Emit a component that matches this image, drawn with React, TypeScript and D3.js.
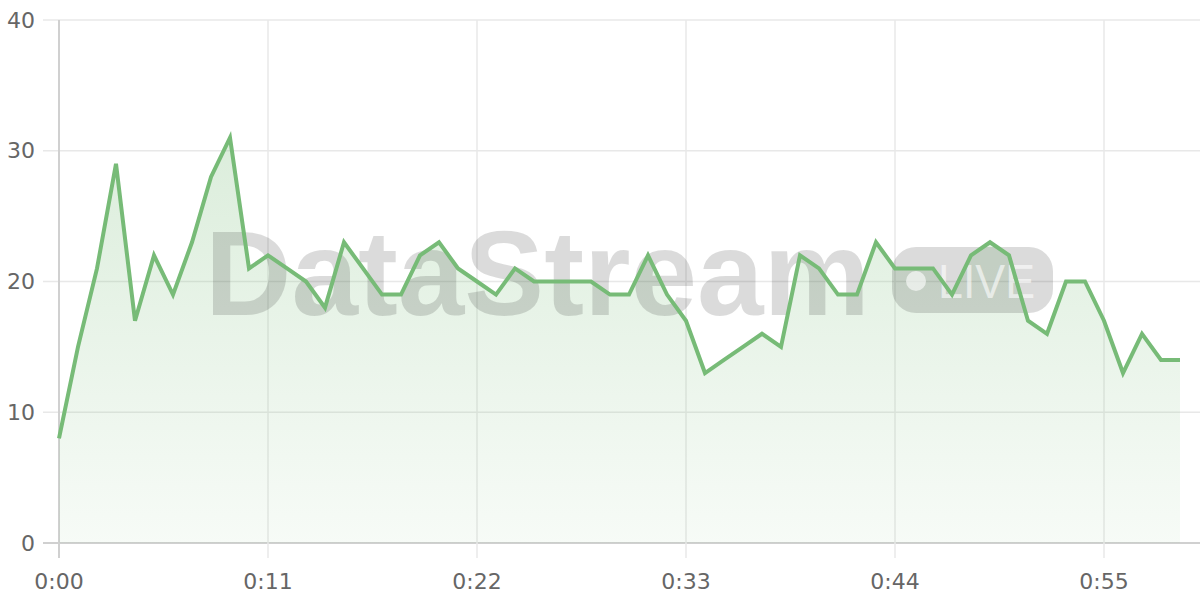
import React from "react";
import * as d3 from "d3";

const seconds: number[] = d3.range(0, 60);
const values: number[] = [
  8, 15, 21, 29, 17, 22, 19, 23, 28, 31,
  21, 22, 21, 20, 18, 23, 21, 19, 19, 22,
  23, 21, 20, 19, 21, 20, 20, 20, 20, 19,
  19, 22, 19, 17, 13, 14, 15, 16, 15, 22,
  21, 19, 19, 23, 21, 21, 21, 19, 22, 23,
  22, 17, 16, 20, 20, 17, 13, 16, 14, 14,
];
const yTicks: number[] = [0, 10, 20, 30, 40];
const xTicks: number[] = [0, 11, 22, 33, 44, 55];
const xTickLabels: string[] = ["0:00", "0:11", "0:22", "0:33", "0:44", "0:55"];
const watermarkText = "DataStream";
const badgeText = "LIVE";

const W = 1200;
const H = 600;
const left = 59;
const right = 1180;
const top = 20;
const bottom = 543;
const lineColor = "#77bb77";
const font = "'DejaVu Sans', sans-serif";

export default function App() {
  const x = d3.scaleLinear().domain([0, 59]).range([left, right]);
  const y = d3.scaleLinear().domain([0, 40]).range([bottom, top]);
  const data = seconds.map((s, i) => ({ s, v: values[i] }));
  const line = d3.line<{ s: number; v: number }>().x(d => x(d.s)).y(d => y(d.v));
  const area = d3
    .area<{ s: number; v: number }>()
    .x(d => x(d.s))
    .y0(y(0))
    .y1(d => y(d.v));

  return (
    <svg
      width={W}
      height={H}
      style={{ position: "absolute", left: 0, top: 0, background: "#fff" }}
    >
      <defs>
        <linearGradient id="fillGrad" gradientUnits="userSpaceOnUse" x1={0} y1={top} x2={0} y2={bottom}>
          <stop offset="0%" stopColor={lineColor} stopOpacity={0.32} />
          <stop offset="100%" stopColor={lineColor} stopOpacity={0.06} />
        </linearGradient>
      </defs>
      {yTicks.map(t => (
        <line
          key={"hy" + t}
          x1={left - 16}
          x2={W}
          y1={y(t)}
          y2={y(t)}
          stroke={t === 0 ? "#d0d0d0" : "#e8e8e8"}
          strokeWidth={t === 0 ? 2 : 1.5}
        />
      ))}
      {xTicks.map(t => (
        <line
          key={"vx" + t}
          x1={x(t)}
          x2={x(t)}
          y1={top}
          y2={bottom + 15}
          stroke={t === 0 ? "#d0d0d0" : "#e8e8e8"}
          strokeWidth={t === 0 ? 2 : 1.5}
        />
      ))}
      <path d={area(data) || ""} fill="url(#fillGrad)" />
      <g>
        <text
          x={205}
          y={315}
          fontFamily="'Liberation Sans', Arial, sans-serif"
          fontWeight="bold"
          fontSize={121}
          fill="rgba(0,0,0,0.14)"
          textLength={665}
          lengthAdjust="spacingAndGlyphs"
        >
          {watermarkText}
        </text>
        <rect x={892} y={247} width={161} height={66} rx={24} fill="rgba(0,0,0,0.14)" />
        <circle cx={916} cy={281} r={10} fill="rgba(255,255,255,0.6)" />
        <text
          x={938}
          y={298}
          fontFamily="'Liberation Sans', Arial, sans-serif"
          fontSize={48}
          fill="rgba(255,255,255,0.6)"
          textLength={97}
          lengthAdjust="spacingAndGlyphs"
        >
          {badgeText}
        </text>
      </g>
      <path
        d={line(data) || ""}
        fill="none"
        stroke={lineColor}
        strokeWidth={4}
        strokeLinejoin="miter"
      />
      {yTicks.map(t => (
        <text
          key={"ly" + t}
          x={35}
          y={y(t)}
          textAnchor="end"
          dominantBaseline="central"
          fontFamily={font}
          fontSize={22}
          fill="#666"
        >
          {t}
        </text>
      ))}
      {xTicks.map((t, i) => (
        <text
          key={"lx" + t}
          x={x(t)}
          y={581}
          textAnchor="middle"
          dominantBaseline="central"
          fontFamily={font}
          fontSize={22}
          fill="#666"
        >
          {xTickLabels[i]}
        </text>
      ))}
    </svg>
  );
}
